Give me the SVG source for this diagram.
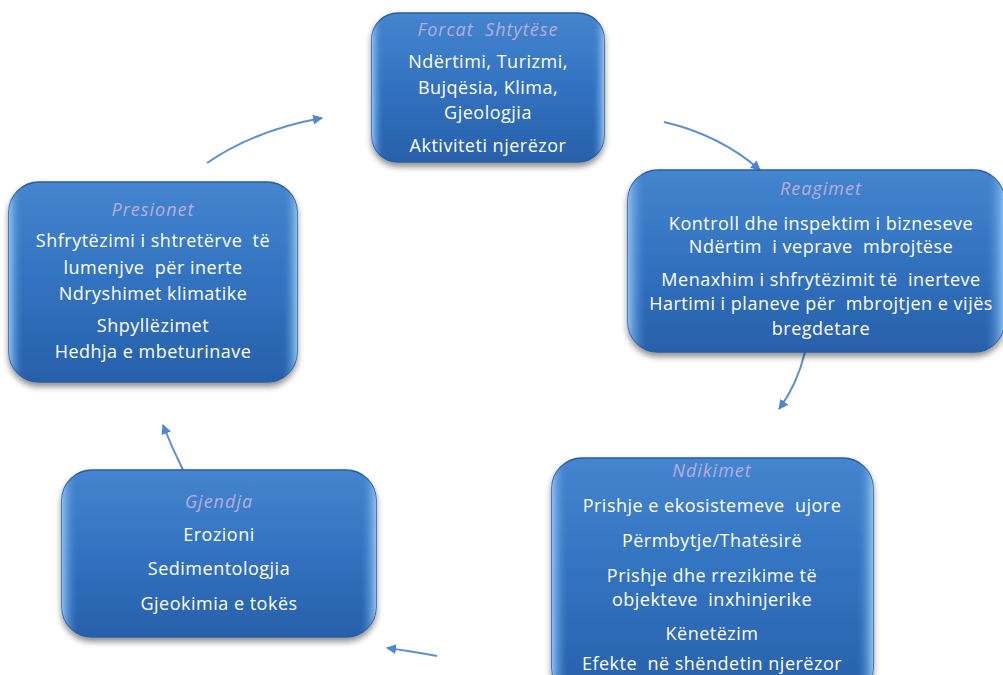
<svg xmlns="http://www.w3.org/2000/svg" width="1003" height="675" viewBox="0 0 1003 675">
<defs>
<linearGradient id="bg" x1="0" y1="0" x2="0" y2="1">
<stop offset="0" stop-color="#4585cf"/>
<stop offset="0.5" stop-color="#3272c0"/>
<stop offset="1" stop-color="#2860aa"/>
</linearGradient>
<linearGradient id="edge" x1="0" y1="0" x2="1" y2="0">
<stop offset="0" stop-color="#8cc0f0"/>
<stop offset="0.05" stop-color="#3a7cc8" stop-opacity="0"/>
<stop offset="0.95" stop-color="#3a7cc8" stop-opacity="0"/>
<stop offset="1" stop-color="#8cc0f0"/>
</linearGradient>
<filter id="sh" x="-10%" y="-10%" width="120%" height="130%">
<feGaussianBlur in="SourceAlpha" stdDeviation="3"/>
<feOffset dx="0" dy="4"/>
<feComponentTransfer><feFuncA type="linear" slope="0.45"/></feComponentTransfer>
<feMerge><feMergeNode/><feMergeNode in="SourceGraphic"/></feMerge>
</filter>
<marker id="ah" viewBox="0 0 10 10" refX="9" refY="5" markerWidth="5" markerHeight="5" orient="auto">
<path d="M0,0 L10,5 L0,10 z" fill="#4f86cc"/>
</marker>
</defs>
<style>
.box{fill:url(#bg);stroke:#2a5d9f;stroke-width:1.5;filter:url(#sh)}
.hl{fill:url(#edge);stroke:none}
.t{font-family:"Open Sans","Liberation Sans",Arial,sans-serif;font-size:18px;letter-spacing:0.5px;fill:#ffffff;text-anchor:middle;white-space:pre}
.h{font-family:"Open Sans","Liberation Sans",Arial,sans-serif;font-size:18px;letter-spacing:1px;font-style:italic;fill:#b9addf;text-anchor:middle;white-space:pre}
.c{fill:none;stroke:#5b8fd0;stroke-width:2;marker-end:url(#ah)}
</style>
<rect width="1003" height="675" fill="#ffffff"/>
<g id="connectors">
<path class="c" d="M207,163 Q255,130 322,118"/>
<path class="c" d="M664,122 Q720,135 760,170"/>
<path class="c" d="M805,352 Q797,385 779,409"/>
<path class="c" d="M437,656 Q410,651 387,648"/>
<path class="c" d="M183,470 Q172,448 163,425"/>
</g>
<g id="forcat">
<rect class="box" x="372" y="13" width="232" height="149" rx="26"/>
<rect class="hl" x="372" y="13" width="232" height="149" rx="26"/>
<text class="h" x="488" y="36">Forcat  Shtytëse</text>
<text class="t" x="488" y="68">Ndërtimi, Turizmi,</text>
<text class="t" x="488" y="94">Bujqësia, Klima,</text>
<text class="t" x="488" y="119">Gjeologjia</text>
<text class="t" x="488" y="152">Aktiviteti njerëzor</text>
</g>
<g id="reagimet">
<rect class="box" x="628" y="170" width="376" height="182" rx="30"/>
<rect class="hl" x="628" y="170" width="376" height="182" rx="30"/>
<text class="h" x="821" y="195">Reagimet</text>
<text class="t" x="821" y="230">Kontroll dhe inspektim i bizneseve</text>
<text class="t" x="821" y="253">Ndërtim  i veprave  mbrojtëse</text>
<text class="t" x="821" y="286">Menaxhim i shfrytëzimit të  inerteve</text>
<text class="t" x="821" y="310">Hartimi i planeve për  mbrojtjen e vijës</text>
<text class="t" x="821" y="335">bregdetare</text>
</g>
<g id="presionet">
<rect class="box" x="9" y="182" width="288" height="200" rx="30"/>
<rect class="hl" x="9" y="182" width="288" height="200" rx="30"/>
<text class="h" x="153" y="216">Presionet</text>
<text class="t" x="153" y="247">Shfrytëzimi i shtretërve  të</text>
<text class="t" x="153" y="274">lumenjve  për inerte</text>
<text class="t" x="153" y="300">Ndryshimet klimatike</text>
<text class="t" x="153" y="332">Shpyllëzimet</text>
<text class="t" x="153" y="358">Hedhja e mbeturinave</text>
</g>
<g id="gjendja">
<rect class="box" x="62" y="470" width="314" height="167" rx="30"/>
<rect class="hl" x="62" y="470" width="314" height="167" rx="30"/>
<text class="h" x="219" y="508">Gjendja</text>
<text class="t" x="219" y="541">Erozioni</text>
<text class="t" x="219" y="575">Sedimentologjia</text>
<text class="t" x="219" y="610">Gjeokimia e tokës</text>
</g>
<g id="ndikimet">
<rect class="box" x="552" y="458" width="321" height="240" rx="30"/>
<rect class="hl" x="552" y="458" width="321" height="240" rx="30"/>
<text class="h" x="712" y="477">Ndikimet</text>
<text class="t" x="712" y="512">Prishje e ekosistemeve  ujore</text>
<text class="t" x="712" y="547">Përmbytje/Thatësirë</text>
<text class="t" x="712" y="582">Prishje dhe rrezikime të</text>
<text class="t" x="712" y="606">objekteve  inxhinjerike</text>
<text class="t" x="712" y="640">Kënetëzim</text>
<text class="t" x="712" y="670">Efekte  në shëndetin njerëzor</text>
</g>
</svg>
